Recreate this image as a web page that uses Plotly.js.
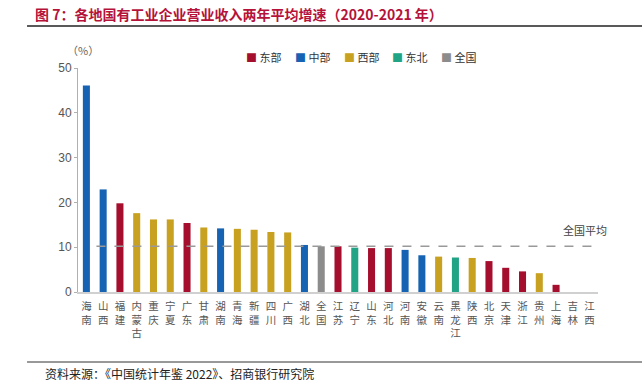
<!DOCTYPE html>
<html><head><meta charset="utf-8">
<script src="https://cdn.plot.ly/plotly-3.0.1.min.js"></script>
<style>body{margin:0;background:#fff}#chart{width:642px;height:390px}</style>
</head><body><div id="chart"></div>
<script>
const provinces = ["海南","山西","福建","内蒙古","重庆","宁夏","广东","甘肃","湖南","青海","新疆","四川","广西","湖北","全国","江苏","辽宁","山东","河北","河南","安徽","云南","黑龙江","陕西","北京","天津","浙江","贵州","上海","吉林","江西"];
const growth = [46.1,22.9,19.8,17.6,16.2,16.2,15.4,14.4,14.2,14.1,13.9,13.4,13.3,10.5,10.2,10.2,9.9,9.8,9.8,9.4,8.2,7.9,7.7,7.6,6.9,5.4,4.6,4.2,1.6,null,null];
const regions = ["中部","中部","东部","西部","西部","西部","东部","西部","中部","西部","西部","西部","西部","中部","全国","东部","东北","东部","东部","中部","中部","西部","东北","西部","东部","东部","东部","西部","东部","东北","中部"];
const regionOrder = ["东部","中部","西部","东北","全国"];
const regionColors = {"东部":"#A50E2D","中部":"#1763B3","西部":"#C8A121","东北":"#21A386","全国":"#8C8C8C"};
const nationalAvg = 10.2;
const yTicks = [0,10,20,30,40,50];

const tickText = provinces.map(p => p.split("").join("<br>"));

const traces = regionOrder.map(r => {
  const xs = [], ys = [];
  provinces.forEach((p,i) => { if (regions[i] === r) { xs.push(p); ys.push(growth[i]); } });
  return {
    type: "bar", name: r, x: xs, y: ys, width: 0.42,
    marker: {color: regionColors[r]}, hoverinfo: "x+y", showlegend: false
  };
});

// manual legend (compact spacing like the reference)
const legendX0 = 0.320, legendStep = 0.0935;
const legendAnns = regionOrder.map((r, i) => ({
  text: '<span style="color:' + regionColors[r] + '">■</span> ' + r,
  xref: "paper", yref: "paper", x: legendX0 + i * legendStep, y: 1.05,
  xanchor: "left", yanchor: "middle", showarrow: false,
  font: {size: 11, color: "#333"}
}));

const layout = {
  width: 642, height: 390,
  margin: {l: 78, r: 44, t: 68, b: 98},
  paper_bgcolor: "#fff", plot_bgcolor: "#fff",
  barmode: "overlay",
  font: {family: "Noto Sans CJK SC, sans-serif", color: "#555"},
  showlegend: false,
  xaxis: {
    type: "category", categoryorder: "array", categoryarray: provinces,
    tickmode: "array", tickvals: provinces, ticktext: tickText,
    range: [-0.5, 30.5], showline: true, linecolor: "#d0d0d0", linewidth: 1.5,
    ticks: "", tickfont: {size: 10.5, color: "#555"}, ticklabelstandoff: 4,
    showgrid: false, zeroline: false
  },
  yaxis: {
    range: [0, 50], tickmode: "array", tickvals: yTicks,
    showline: true, linecolor: "#b0b0b0", linewidth: 1, ticks: "outside", ticklen: 3,
    tickcolor: "#b0b0b0", tickfont: {size: 12, color: "#555", family: "Arial, Liberation Sans, sans-serif"},
    showgrid: false, zeroline: false
  },
  shapes: [
    {type: "line", xref: "x", yref: "y", x0: 0.6, x1: 31.2, y0: nationalAvg, y1: nationalAvg,
     line: {color: "#999", width: 1.5, dash: "dash"}, layer: "above"},
    {type: "line", xref: "paper", yref: "paper", x0: -0.098, x1: 1.085, y0: 1.1875, y1: 1.1875,
     line: {color: "#222", width: 1.5}},
    {type: "line", xref: "paper", yref: "paper", x0: -0.098, x1: 1.085, y0: -0.3125, y1: -0.3125,
     line: {color: "#333", width: 1}}
  ],
  annotations: [
    {text: "图 7：各地国有工业企业营业收入两年平均增速（2020-2021 年）", xref: "paper", yref: "paper",
     x: -0.087, y: 1.243, xanchor: "left", yanchor: "middle", showarrow: false,
     font: {size: 14, color: "#B5123A", family: "Noto Sans CJK SC, sans-serif", weight: "bold"}},
    {text: "（%）", xref: "paper", yref: "paper", x: 0.01, y: 1.08, xanchor: "center", yanchor: "middle",
     showarrow: false, font: {size: 11, color: "#666"}},
    {text: "全国平均", xref: "paper", yref: "y", x: 0.975, y: 13.8, xanchor: "center", yanchor: "middle",
     showarrow: false, font: {size: 11, color: "#444"}},
    {text: "资料来源：《中国统计年鉴 2022》、招商银行研究院", xref: "paper", yref: "paper",
     x: -0.067, y: -0.362, xanchor: "left", yanchor: "middle", showarrow: false,
     font: {size: 12, color: "#222"}}
  ].concat(legendAnns)
};

Plotly.newPlot("chart", traces, layout, {displayModeBar: false, staticPlot: true});
</script></body></html>
